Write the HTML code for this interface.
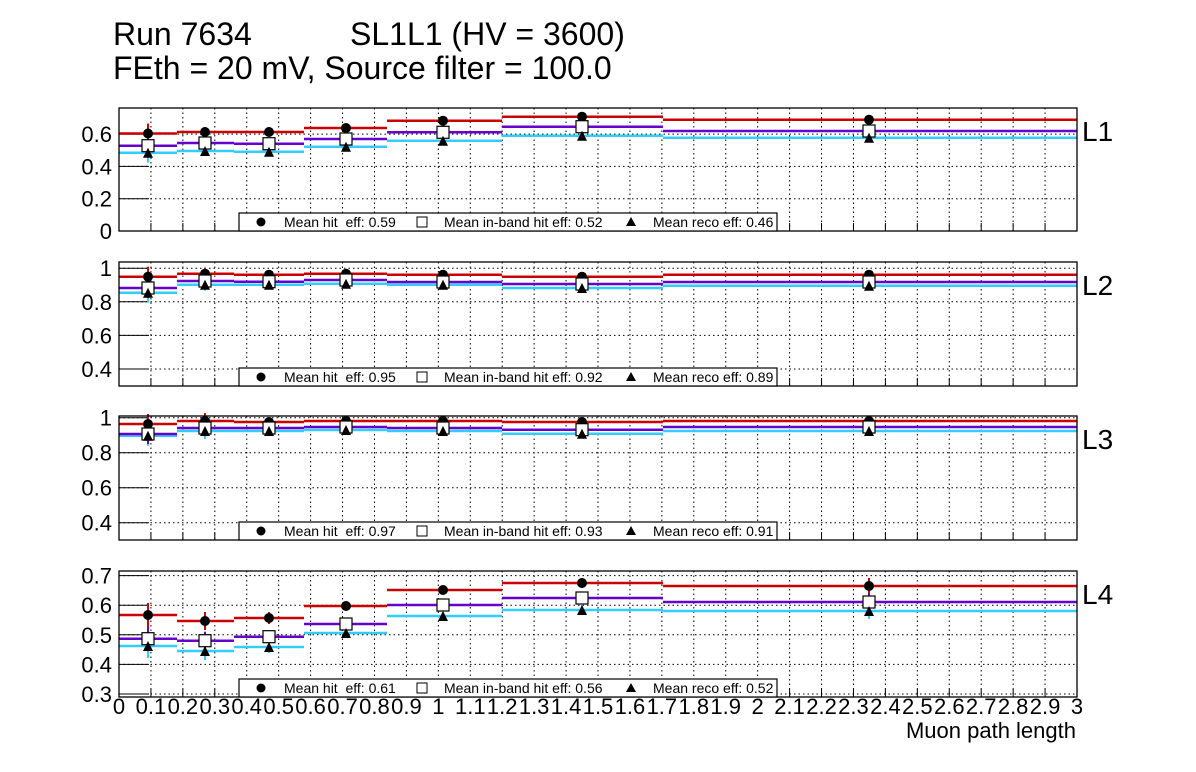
<!DOCTYPE html>
<html><head><meta charset="utf-8"><style>
body{margin:0;background:#fff;}
svg{display:block;font-family:"Liberation Sans",Arial,sans-serif;}
</style></head><body>
<svg id="s" width="1196" height="772" xmlns="http://www.w3.org/2000/svg">
<rect width="1196" height="772" fill="#fff"/>
<text x="113" y="45" font-size="32">Run 7634</text>
<text x="350" y="45" font-size="32">SL1L1 (HV = 3600)</text>
<text x="113" y="79" font-size="32">FEth = 20 mV, Source filter = 100.0</text>
</svg>
<script>
var s=document.getElementById('s');var h='';
var X0=119,X1=1077;function xp(v){return X0+(X1-X0)*v/3;}
var edges=[119,177,234,304,387,502,663,1077];
var px=[148,205,269,346,443,582,869];
var panels=[
{t:108,b:231,y0:231,ppu:161.5,ticks:[[0,'0'],[0.2,'0.2'],[0.4,'0.4'],[0.6,'0.6']],
 red:[133.5,132,132,128,120.7,116.7,119.7],pur:[145.7,143,143.7,139,132.3,126.7,131],cya:[152.7,151,151.7,146.7,140.7,135.7,137.7],
 leg:['0.59','0.52','0.46'],L:'L1',err:[10,4,4,4,3,3,3]},
{t:262,b:386,y0:369,ppu:168,base:0.4,ticks:[[0.4,'0.4'],[0.6,'0.6'],[0.8,'0.8'],[1,'1']],
 red:[276.7,273.7,274.7,273.7,274.7,276.7,274.7],pur:[288,281,281.7,280,282,284,282],cya:[292.7,284.7,284.7,283.7,284.7,288,285.7],
 leg:['0.95','0.92','0.89'],L:'L2',err:[10,6,4,3,3,3,3]},
{t:416,b:540,y0:522.7,ppu:175,base:0.4,ticks:[[0.4,'0.4'],[0.6,'0.6'],[0.8,'0.8'],[1,'1']],
 red:[424,421,422,421,421,422,421],pur:[434,428,428,427,428,429.7,427],cya:[435.7,431,431,430,431,433.7,431],
 leg:['0.97','0.93','0.91'],L:'L3',err:[10,8,4,3,3,3,3]},
{t:571,b:697,y0:694,ppu:296,base:0.3,ticks:[[0.3,'0.3'],[0.4,'0.4'],[0.5,'0.5'],[0.6,'0.6'],[0.7,'0.7']],
 red:[615,621,618,606,590,583,586],pur:[638.7,640.7,636.7,624,605,598,602],cya:[646,651,647,633,616,610,611],
 leg:['0.61','0.56','0.52'],L:'L4',err:[12,9,6,4,4,5,8]}
];
panels.forEach(function(p,i){
 var base=p.base||0;function yp(v){return p.y0-(v-base)*p.ppu;}
 for(var k=1;k<30;k++){var x=xp(k/10);h+='<line x1="'+x+'" y1="'+p.t+'" x2="'+x+'" y2="'+p.b+'" stroke="#000" stroke-width="1" stroke-dasharray="1.5,3"/>';
  h+='<line x1="'+x+'" y1="'+p.b+'" x2="'+x+'" y2="'+(p.b-8)+'" stroke="#000"/>';}
 p.ticks.forEach(function(t){var y=yp(t[0]);
  if(y>p.t+1&&y<p.b-1)h+='<line x1="'+X0+'" y1="'+y+'" x2="'+X1+'" y2="'+y+'" stroke="#000" stroke-dasharray="1.5,3"/>';
  h+='<line x1="'+X0+'" y1="'+y+'" x2="'+(X0+30)+'" y2="'+y+'" stroke="#000"/>';
  h+='<text x="112" y="'+(y+8)+'" font-size="22" text-anchor="end">'+t[1]+'</text>';});
 [['cya','#33ccff'],['pur','#6600cc'],['red','#cc0000']].forEach(function(c){
  var a=p[c[0]];for(var j=0;j<7;j++){h+='<line x1="'+edges[j]+'" y1="'+a[j]+'" x2="'+edges[j+1]+'" y2="'+a[j]+'" stroke="'+c[1]+'" stroke-width="2.5"/>';
   h+='<line x1="'+px[j]+'" y1="'+(a[j]-p.err[j])+'" x2="'+px[j]+'" y2="'+(a[j]+p.err[j])+'" stroke="'+c[1]+'" stroke-width="2"/>';}
 });
 for(var j=0;j<7;j++){var x=px[j];
  h+='<circle cx="'+x+'" cy="'+p.red[j]+'" r="5" fill="#000"/>';
  h+='<rect x="'+(x-6)+'" y="'+(p.pur[j]-6)+'" width="12" height="12" fill="#fff" stroke="#000" stroke-width="1.2"/>';
  var ty=p.cya[j];h+='<polygon points="'+(x-5)+','+(ty+5)+' '+(x+5)+','+(ty+5)+' '+x+','+(ty-5)+'" fill="#000"/>';}
 h+='<rect x="'+X0+'" y="'+p.t+'" width="'+(X1-X0)+'" height="'+(p.b-p.t)+'" fill="none" stroke="#000" stroke-width="1.3"/>';
 var lt=p.b-18;
 h+='<rect x="239" y="'+lt+'" width="538" height="18" fill="#fff" stroke="#000" stroke-width="1.2"/>';
 var ly=lt+14;
 h+='<circle cx="261" cy="'+(lt+9)+'" r="4.5" fill="#000"/>';
 h+='<text x="284" y="'+ly+'" font-size="14" xml:space="preserve">Mean hit  eff: '+p.leg[0]+'</text>';
 h+='<rect x="417" y="'+(lt+4)+'" width="10" height="10" fill="#fff" stroke="#000"/>';
 h+='<text x="444" y="'+ly+'" font-size="14">Mean in-band hit eff: '+p.leg[1]+'</text>';
 h+='<polygon points="626,'+(lt+13)+' 636,'+(lt+13)+' 631,'+(lt+4)+'" fill="#000"/>';
 h+='<text x="653" y="'+ly+'" font-size="14">Mean reco eff: '+p.leg[2]+'</text>';
 h+='<text x="1082" y="'+(p.t+33)+'" font-size="28">'+p.L+'</text>';
});
for(var k=0;k<=30;k++){var lab=(k/10).toString();var x=xp(k/10);
 h+='<text x="'+x+'" y="714" font-size="22" text-anchor="middle">'+lab+'</text>';}
h+='<text x="1076" y="738" font-size="22" text-anchor="end">Muon path length</text>';
s.insertAdjacentHTML('beforeend',h);
</script>
</body></html>
